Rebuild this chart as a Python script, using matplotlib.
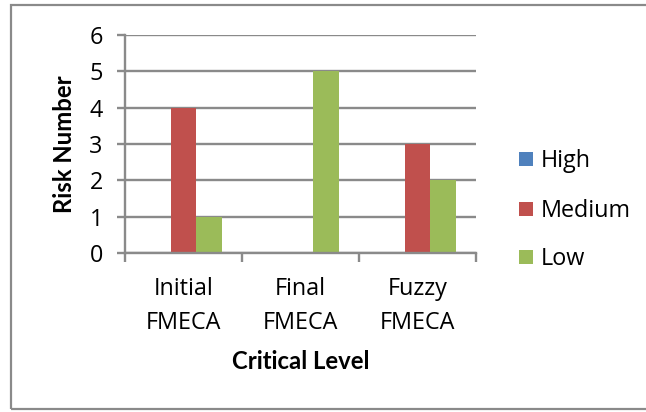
import matplotlib
matplotlib.use("Agg")
import matplotlib.pyplot as plt
from matplotlib.patches import Rectangle
import numpy as np

categories = ["Initial\nFMECA", "Final\nFMECA", "Fuzzy\nFMECA"]
series_names = ["High", "Medium", "Low"]
high = [0, 0, 0]
medium = [4, 0, 3]
low = [1, 5, 2]
colors = ["#4F81BD", "#C0504D", "#9BBB59"]
y_ticks = [0, 1, 2, 3, 4, 5, 6]

plt.rcParams["font.family"] = ["Open Sans", "DejaVu Sans"]
BOLD_FONT = ["Lato", "DejaVu Sans"]
GREY = "#8A8A8A"
FS = 16.8
FS_TITLE = 17.2

W, H = 646, 412
fig = plt.figure(figsize=(W / 100, H / 100), dpi=100)


def fx(px):
    return px / W


def fy(py):
    return 1 - py / H


ax = fig.add_axes([fx(125), fy(253), (476 - 125) / W, (253 - 35) / H])

x = np.arange(len(categories))
bw = 0.222
for i, (name, vals, c) in enumerate(zip(series_names, [high, medium, low], colors)):
    ax.bar(x + (i - 1) * bw, vals, width=bw, color=c, label=name, zorder=2)

ax.set_xlim(-0.5, 2.5)
ax.set_ylim(0, 6)
ax.set_yticks(y_ticks)
ax.set_yticklabels([str(v) for v in y_ticks], fontsize=FS)
ax.yaxis.grid(True, color=GREY, linewidth=1.7, zorder=0)
ax.set_axisbelow(True)

ax.set_xticks(x)
ax.set_xticklabels(categories, fontsize=FS, linespacing=1.55)
ax.set_xticks([-0.5, 0.5, 1.5, 2.5], minor=True)
ax.tick_params(axis="x", which="major", length=0, pad=17.5)
ax.tick_params(axis="x", which="minor", length=6.5, width=1.7, color=GREY, direction="out")
ax.tick_params(axis="y", length=6, width=1.7, color=GREY, pad=10)

for s in ["top", "right"]:
    ax.spines[s].set_visible(False)
for s in ["left", "bottom"]:
    ax.spines[s].set_color(GREY)
    ax.spines[s].set_linewidth(1.7)

ax.set_xlabel("Critical Level", fontsize=FS_TITLE, fontweight="bold",
              family=BOLD_FONT, labelpad=11)
ax.set_ylabel("Risk Number", fontsize=FS_TITLE, fontweight="bold",
              family=BOLD_FONT, labelpad=10)

# legend drawn as colour squares with labels to the right of the plot
leg_baselines = [166.7, 216.5, 265]
for name, c, base in zip(series_names, colors, leg_baselines):
    fig.patches.append(Rectangle((fx(518.5), fy(base - 1)), 14 / W, 14 / H,
                                 transform=fig.transFigure, facecolor=c,
                                 edgecolor="none"))
    fig.text(fx(540.5), fy(base), name, fontsize=FS, va="baseline", ha="left")

fig.patches.append(Rectangle((fx(11), fy(409)), (660 - 11) / W, (409 - 5) / H,
                             transform=fig.transFigure, fill=False,
                             edgecolor=GREY, linewidth=1.6))

fig.savefig("out.png", dpi=100)
